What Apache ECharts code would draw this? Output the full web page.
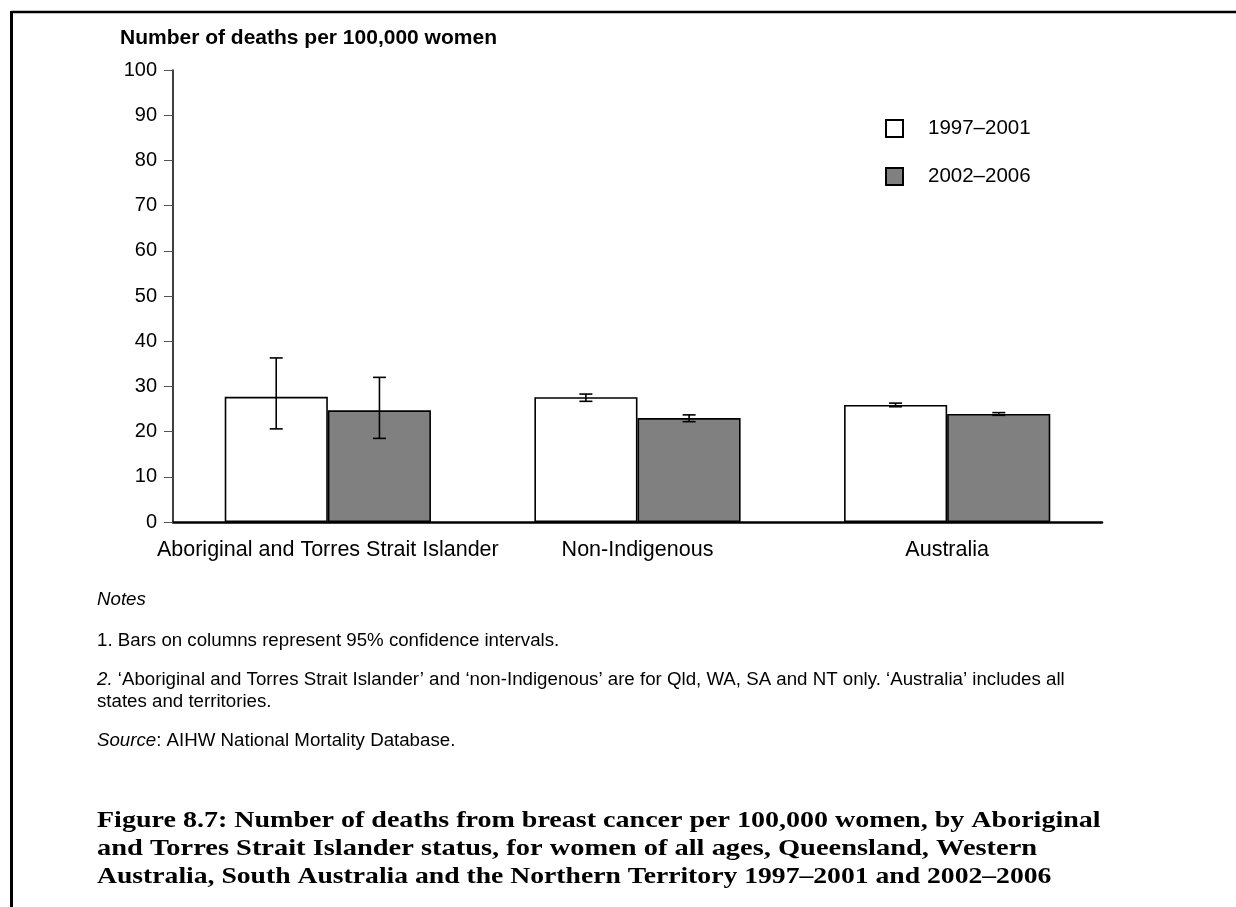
<!DOCTYPE html>
<html>
<head>
<meta charset="utf-8">
<script src="https://cdn.jsdelivr.net/npm/echarts@6/dist/echarts.min.js"></script>
<style>html,body{margin:0;padding:0;background:#fff}#c{width:1236px;height:907px}</style>
</head>
<body>
<div id="c"></div>
<script>
const categories = ['Aboriginal and Torres Strait Islander', 'Non-Indigenous', 'Australia'];
const seriesNames = ['1997–2001', '2002–2006'];
const values1997 = [27.7, 27.6, 25.9];
const values2002 = [24.7, 23.0, 23.9];
const ci1997 = [[20.6, 36.3], [26.7, 28.3], [25.5, 26.3]];
const ci2002 = [[18.5, 32.0], [22.2, 23.7], [23.6, 24.2]];
const yTicks = [0, 10, 20, 30, 40, 50, 60, 70, 80, 90, 100];
const yAxisTitle = 'Number of deaths per 100,000 women';
const notesTitle = 'Notes';
const note1 = '1. Bars on columns represent 95% confidence intervals.';
const note2a = '{i|2.} ‘Aboriginal and Torres Strait Islander’ and ‘non-Indigenous’ are for Qld, WA, SA and NT only. ‘Australia’ includes all';
const note2b = 'states and territories.';
const sourceText = '{i|Source}: AIHW National Mortality Database.';
const figureTitle = [
  'Figure 8.7: Number of deaths from breast cancer per 100,000 women, by Aboriginal',
  'and Torres Strait Islander status, for women of all ages, Queensland, Western',
  'Australia, South Australia and the Northern Territory 1997–2001 and 2002–2006'
];

const FONT = '"Liberation Sans", Arial, sans-serif';
const SERIF = '"Liberation Serif", "Times New Roman", serif';

function errData(ci) { return ci.map((d, i) => [i, d[0], d[1]]); }

function errRender(side) {
  return function (params, api) {
    const x0 = api.value(0);
    const top = api.coord([x0, api.value(2)]);
    const bot = api.coord([x0, api.value(1)]);
    const bw = api.size([1, 0])[0];
    const x = top[0] + side * bw / 6;
    const h = 6.5;
    const st = { stroke: '#000', lineWidth: 1.6 };
    return {
      type: 'group',
      children: [
        { type: 'line', shape: { x1: x, y1: top[1], x2: x, y2: bot[1] }, style: st },
        { type: 'line', shape: { x1: x - h, y1: top[1], x2: x + h, y2: top[1] }, style: st },
        { type: 'line', shape: { x1: x - h, y1: bot[1], x2: x + h, y2: bot[1] }, style: st }
      ]
    };
  };
}

function noteText(txt, y, scaleX) {
  return {
    type: 'text', x: 97, y: y, scaleX: scaleX || 1,
    style: {
      text: txt, font: '18.7px ' + FONT, fill: '#000', verticalAlign: 'middle', align: 'left',
      rich: { i: { font: 'italic 18.7px ' + FONT, fill: '#000' } }
    }
  };
}

const chart = echarts.init(document.getElementById('c'), null, { renderer: 'canvas' });
chart.setOption({
  animation: false,
  backgroundColor: '#fff',
  textStyle: { fontFamily: FONT, color: '#000' },
  legend: {
    orient: 'vertical',
    left: 880, top: 113,
    itemWidth: 17, itemHeight: 17, itemGap: 27,
    icon: 'rect',
    data: seriesNames,
    textStyle: { fontFamily: FONT, fontSize: 20.5, color: '#000', padding: [0, 0, 0, 20] }
  },
  grid: { left: 173, right: 134, top: 70, bottom: 385, containLabel: false },
  xAxis: {
    type: 'category',
    data: categories,
    axisLine: { lineStyle: { color: '#000', width: 2.5 } },
    axisTick: { alignWithLabel: true, length: 8, lineStyle: { color: '#666', width: 1 } },
    axisLabel: { interval: 0, fontFamily: FONT, fontSize: 21.5, color: '#000', margin: 17 }
  },
  yAxis: {
    type: 'value',
    min: yTicks[0], max: yTicks[yTicks.length - 1], interval: 10,
    axisLine: { show: true, lineStyle: { color: '#000', width: 1.5 } },
    axisTick: { show: true, length: 9, lineStyle: { color: '#555', width: 1 } },
    axisLabel: { fontFamily: FONT, fontSize: 20, color: '#000', margin: 16 },
    splitLine: { show: false }
  },
  series: [
    {
      name: seriesNames[0], type: 'bar', data: values1997,
      barWidth: '33.3%', barGap: '0%',
      itemStyle: { color: '#ffffff', borderColor: '#000', borderWidth: 1.6 }
    },
    {
      name: seriesNames[1], type: 'bar', data: values2002,
      barWidth: '33.3%', barGap: '0%',
      itemStyle: { color: '#808080', borderColor: '#000', borderWidth: 1.6 }
    },
    {
      type: 'custom', renderItem: errRender(-1), data: errData(ci1997),
      encode: { x: 0, y: [1, 2] }, z: 5, silent: true
    },
    {
      type: 'custom', renderItem: errRender(1), data: errData(ci2002),
      encode: { x: 0, y: [1, 2] }, z: 5, silent: true
    }
  ],
  graphic: [
    { type: 'line', shape: { x1: 11.5, y1: 12, x2: 1236, y2: 12 }, style: { stroke: '#000', lineWidth: 2.5 } },
    { type: 'line', shape: { x1: 11.5, y1: 11, x2: 11.5, y2: 907 }, style: { stroke: '#000', lineWidth: 3 } },
    {
      type: 'text', x: 120, y: 38,
      style: { text: yAxisTitle, font: 'bold 21px ' + FONT, fill: '#000', verticalAlign: 'middle', align: 'left' }
    },
    {
      type: 'text', x: 97, y: 600,
      style: { text: notesTitle, font: 'italic 18.7px ' + FONT, fill: '#000', verticalAlign: 'middle', align: 'left' }
    },
    noteText(note1, 641),
    noteText(note2a, 680),
    noteText(note2b, 702),
    noteText(sourceText, 741),
    {
      type: 'text', x: 97, y: 821, scaleX: 1.168,
      style: { text: figureTitle[0], font: 'bold 24px ' + SERIF, fill: '#000', verticalAlign: 'middle', align: 'left' }
    },
    {
      type: 'text', x: 97, y: 849, scaleX: 1.185,
      style: { text: figureTitle[1], font: 'bold 24px ' + SERIF, fill: '#000', verticalAlign: 'middle', align: 'left' }
    },
    {
      type: 'text', x: 97, y: 877, scaleX: 1.152,
      style: { text: figureTitle[2], font: 'bold 24px ' + SERIF, fill: '#000', verticalAlign: 'middle', align: 'left' }
    }
  ]
});
</script>
</body>
</html>
